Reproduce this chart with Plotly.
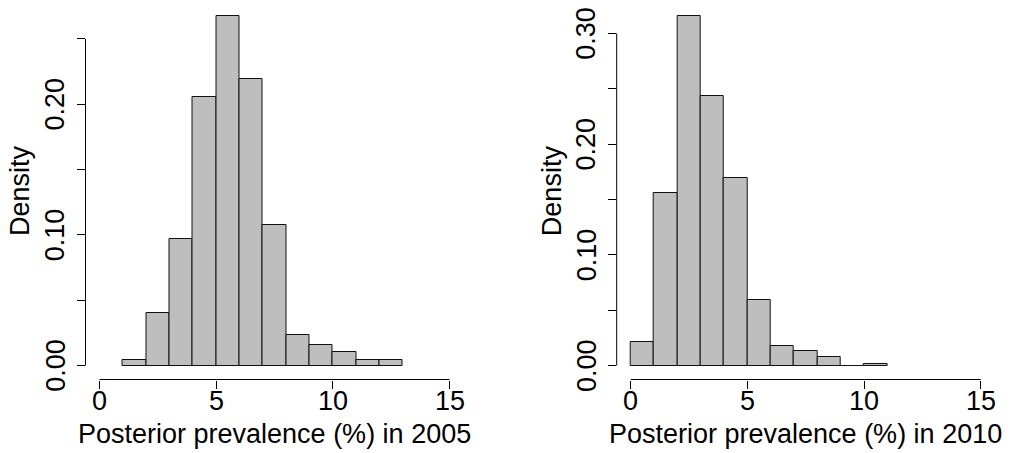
import plotly.graph_objects as go

# ---------------- data ----------------
bin_left_2005 = [1, 2, 3, 4, 5, 6, 7, 8, 9, 10, 11, 12]
density_2005 = [0.0041, 0.0401, 0.0970, 0.2059, 0.2676, 0.2196, 0.1074,
                0.0235, 0.0158, 0.0102, 0.0046, 0.0046]

bin_left_2010 = [0, 1, 2, 3, 4, 5, 6, 7, 8, 9, 10]
density_2010 = [0.0208, 0.1560, 0.3157, 0.2434, 0.1697, 0.0590, 0.0172,
                0.0135, 0.0075, 0.0, 0.0010]

bin_width = 1
x_ticks = [0, 5, 10, 15]
x_labels = ["0", "5", "10", "15"]
y_ticks_2005 = [0.00, 0.05, 0.10, 0.15, 0.20, 0.25]
y_labels_2005 = ["0.00", "", "0.10", "", "0.20", ""]
y_ticks_2010 = [0.00, 0.05, 0.10, 0.15, 0.20, 0.25, 0.30]
y_labels_2010 = ["0.00", "", "0.10", "", "0.20", "", "0.30"]
x_title_2005 = "Posterior prevalence (%) in 2005"
x_title_2010 = "Posterior prevalence (%) in 2010"
y_title = "Density"

# ---------------- layout constants ----------------
W, H = 1015, 453
FONT = "Liberation Sans, Arial, Helvetica, sans-serif"
FS = 27
BAR_FILL = "#BEBEBE"
TICKLEN = 8


def px_x(v):
    return v / W


def px_y(v):
    return 1 - v / H


PLOT_TOP, PLOT_BOT = 2.0, 379.5
ydom = [px_y(PLOT_BOT), px_y(PLOT_TOP)]
xdom_left = [px_x(85.5), px_x(463.5)]
xdom_right = [px_x(616.7), px_x(994.7)]


def xr():
    lo, hi = x_ticks[0], x_ticks[-1]
    pad = 0.04 * (hi - lo)
    return [lo - pad, hi + pad]


def yr(d):
    m = max(d)
    return [-0.04 * m, 1.04 * m]


fig = go.Figure()

for dens, left, xa, ya in [
    (density_2005, bin_left_2005, "x", "y"),
    (density_2010, bin_left_2010, "x2", "y2"),
]:
    fig.add_trace(go.Bar(
        x=[l + bin_width / 2 for l in left],
        y=dens,
        width=bin_width,
        marker=dict(color=BAR_FILL, line=dict(color="#111111", width=1)),
        xaxis=xa, yaxis=ya, showlegend=False, hoverinfo="skip",
        cliponaxis=False,
    ))

axis_common = dict(
    showgrid=False, zeroline=False, showline=False, automargin=False,
    ticks="outside", ticklen=TICKLEN, tickwidth=1, tickcolor="black",
    showticklabels=False, fixedrange=True,
)

fig.update_layout(
    width=W, height=H,
    margin=dict(l=0, r=0, t=0, b=0),
    paper_bgcolor="white", plot_bgcolor="white",
    bargap=0,
    font=dict(family=FONT, size=FS, color="black"),
    xaxis=dict(domain=xdom_left, range=xr(), anchor="y",
               tickvals=x_ticks, **axis_common),
    yaxis=dict(domain=ydom, range=yr(density_2005), anchor="x",
               tickvals=y_ticks_2005, **axis_common),
    xaxis2=dict(domain=xdom_right, range=xr(), anchor="y2",
                tickvals=x_ticks, **axis_common),
    yaxis2=dict(domain=ydom, range=yr(density_2010), anchor="x2",
                tickvals=y_ticks_2010, **axis_common),
)

txt_font = dict(family=FONT, size=FS, color="black")
panels = [("x", "y", y_ticks_2005, y_labels_2005, x_title_2005),
          ("x2", "y2", y_ticks_2010, y_labels_2010, x_title_2010)]

for xa, ya, yt, yl, xt in panels:
    # R-style axis lines spanning only first to last tick
    fig.add_shape(type="line", xref=xa, yref=f"{ya} domain",
                  x0=x_ticks[0], x1=x_ticks[-1], y0=0, y1=0,
                  line=dict(color="black", width=1))
    fig.add_shape(type="line", xref=f"{xa} domain", yref=ya,
                  x0=0, x1=0, y0=yt[0], y1=yt[-1],
                  line=dict(color="black", width=1))
    # x tick labels
    for v, lab in zip(x_ticks, x_labels):
        fig.add_annotation(text=lab, xref=xa, yref=f"{ya} domain",
                           x=v, y=0, yshift=-21.1,
                           xanchor="center", yanchor="middle",
                           showarrow=False, font=txt_font)
    # y tick labels (rotated, as R's default las=0)
    for v, lab in zip(yt, yl):
        if lab:
            fig.add_annotation(text=lab, xref=f"{xa} domain", yref=ya,
                               x=0, y=v, xshift=-30.2, textangle=-90,
                               xanchor="center", yanchor="middle",
                               showarrow=False, font=txt_font)
    # axis titles
    fig.add_annotation(text=xt, xref=f"{xa} domain", yref=f"{ya} domain",
                       x=0.5, y=0, yshift=-54.4,
                       xanchor="center", yanchor="middle",
                       showarrow=False, font=txt_font)
    fig.add_annotation(text=y_title, xref=f"{xa} domain", yref=f"{ya} domain",
                       x=0, y=0.5, xshift=-65.3, textangle=-90,
                       xanchor="center", yanchor="middle",
                       showarrow=False, font=txt_font)

fig.write_html("out.html",
               config={"displayModeBar": False},
               post_script="document.body.style.margin='0px';")
